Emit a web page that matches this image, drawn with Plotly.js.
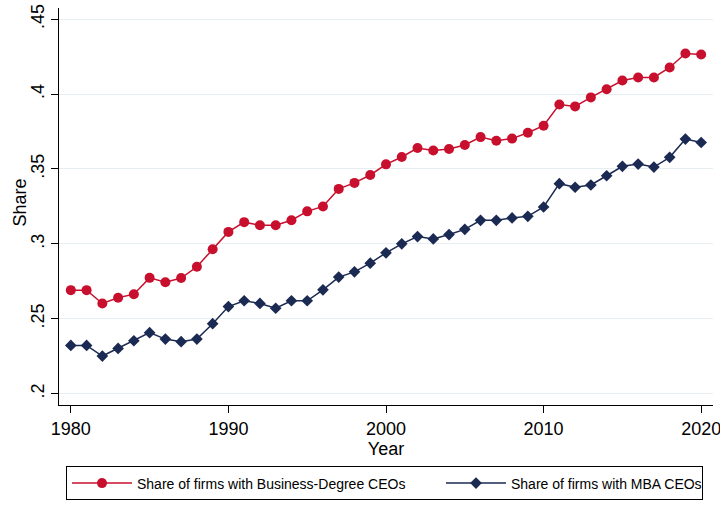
<!DOCTYPE html>
<html>
<head>
<meta charset="utf-8">
<script src="https://cdn.plot.ly/plotly-3.0.1.min.js"></script>
<style>html,body{margin:0;padding:0;background:#fff;}#chart{width:720px;height:506px;}</style>
</head>
<body>
<div id="chart"></div>
<script>
var years = [1980,1981,1982,1983,1984,1985,1986,1987,1988,1989,1990,1991,1992,1993,1994,1995,1996,1997,1998,1999,2000,2001,2002,2003,2004,2005,2006,2007,2008,2009,2010,2011,2012,2013,2014,2015,2016,2017,2018,2019,2020];
var businessShare = [0.2691,0.2691,0.2602,0.2640,0.2664,0.2773,0.2744,0.2772,0.2847,0.2964,0.3080,0.3145,0.3124,0.3124,0.3158,0.3217,0.3250,0.3367,0.3407,0.3460,0.3531,0.3580,0.3640,0.3624,0.3634,0.3660,0.3713,0.3689,0.3703,0.3742,0.3789,0.3931,0.3918,0.3978,0.4033,0.4091,0.4111,0.4111,0.4178,0.4271,0.4264];
var mbaShare = [0.2322,0.2322,0.2251,0.2302,0.2353,0.2407,0.2364,0.2347,0.2364,0.2467,0.2581,0.2620,0.2602,0.2570,0.2620,0.2620,0.2693,0.2778,0.2813,0.2871,0.2940,0.3000,0.3049,0.3033,0.3062,0.3097,0.3157,0.3157,0.3173,0.3184,0.3246,0.3402,0.3378,0.3393,0.3455,0.3518,0.3533,0.3513,0.3578,0.3700,0.3677];
var yTickVals = [0.2,0.25,0.3,0.35,0.4,0.45];
var yTickText = ['.2','.25','.3','.35','.4','.45'];
var xTickVals = [1980,1990,2000,2010,2020];
var seriesNames = ['Share of firms with Business-Degree CEOs','Share of firms with MBA CEOs'];
var xTitle = 'Year', yTitle = 'Share';

var red = '#c8102e', navy = '#1b2a52';
var fam = 'Liberation Sans, Arial, Helvetica, sans-serif';
var traces = [
  {x: years, y: businessShare, name: seriesNames[0], type: 'scatter', mode: 'lines+markers',
   legendwidth: 299,
   line: {color: red, width: 1.5}, marker: {symbol: 'circle', size: 10, color: red}},
  {x: years, y: mbaShare, name: seriesNames[1], type: 'scatter', mode: 'lines+markers',
   legendwidth: 186,
   line: {color: navy, width: 1.5}, marker: {symbol: 'diamond', size: 9, color: navy}}
];
var layout = {
  width: 720, height: 506,
  margin: {l: 59, r: 7, t: 8, b: 100, pad: 0},
  paper_bgcolor: '#fff', plot_bgcolor: '#fff',
  font: {family: fam, color: '#000', size: 15},
  xaxis: {
    range: [1979.25, 2020.75], tickvals: xTickVals, ticks: 'outside', ticklen: 7, tickcolor: '#000',
    showline: true, linecolor: '#000', linewidth: 1, showgrid: false, zeroline: false,
    ticklabeloverflow: 'allow',
    tickfont: {size: 18, family: fam, color: '#000'},
    title: {text: xTitle, font: {size: 18, family: fam, color: '#000'}, standoff: 0}
  },
  yaxis: {
    range: [0.1924, 0.4575], tickvals: yTickVals, ticktext: yTickText, tickangle: -90,
    ticks: 'outside', ticklen: 7, tickcolor: '#000',
    showline: true, linecolor: '#000', linewidth: 1, showgrid: true, gridcolor: '#e6eef1', gridwidth: 1, zeroline: false,
    tickfont: {size: 18, family: fam, color: '#000'}
  },
  annotations: [{
    text: yTitle, xref: 'paper', yref: 'paper', x: -0.0596, y: 0.51, xanchor: 'center', yanchor: 'middle',
    textangle: -90, showarrow: false, font: {size: 18, family: fam, color: '#000'}
  }],
  showlegend: true,
  legend: {
    orientation: 'h', x: 0.0107, xanchor: 'left', y: -0.152, yanchor: 'top',
    bordercolor: '#000', borderwidth: 1, bgcolor: '#fff',
    font: {size: 14, family: fam, color: '#000'},
    itemwidth: 60, traceorder: 'normal'
  }
};
Plotly.newPlot('chart', traces, layout, {displayModeBar: false, staticPlot: true});
</script>
</body>
</html>
